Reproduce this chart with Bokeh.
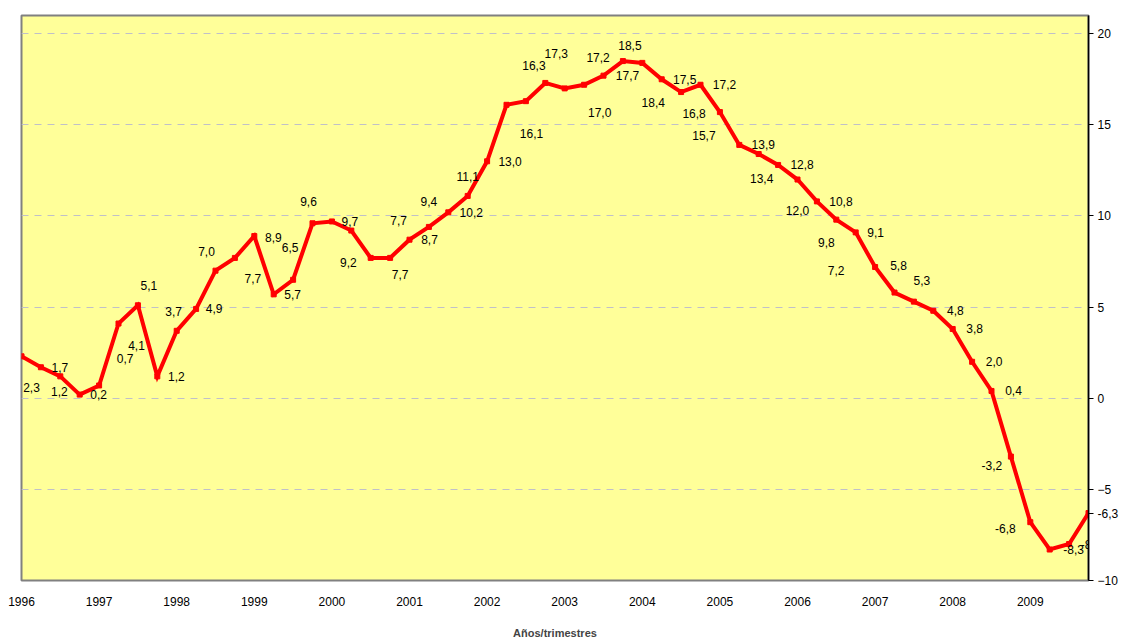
from bokeh.plotting import figure
from bokeh.models import ColumnDataSource, Range1d, FixedTicker
from bokeh.core.properties import value
from bokeh.embed import file_html
from bokeh.resources import INLINE

# ---- data ----
years = ["1996", "1997", "1998", "1999", "2000", "2001", "2002",
         "2003", "2004", "2005", "2006", "2007", "2008", "2009"]
values = [2.3, 1.7, 1.2, 0.2,
          0.7, 4.1, 5.1, 1.2,
          3.7, 4.9, 7.0, 7.7,
          8.9, 5.7, 6.5, 9.6,
          9.7, 9.2, 7.7, 7.7,
          8.7, 9.4, 10.2, 11.1,
          13.0, 16.1, 16.3, 17.3,
          17.0, 17.2, 17.7, 18.5,
          18.4, 17.5, 16.8, 17.2,
          15.7, 13.9, 13.4, 12.8,
          12.0, 10.8, 9.8, 9.1,
          7.2, 5.8, 5.3, 4.8,
          3.8, 2.0, 0.4, -3.2,
          -6.8, -8.3, -8.0, -6.3]
y_ticks = [-10, -5, 0, 5, 10, 15, 20]

# label placement offsets (screen px) - style only
label_dx = [10, 19, -1, 19, 26, 18, 11, 19, -3, 18, -9, 18, 19, 19, -3, -4,
            18, -3, 28, 10, 20, 0, 23, 0, 23, 25, 8, 11, 35, 14, 24, 7,
            11, 23, 13, 24, -16, 24, 3, 24, 0, 24, -10, 20, -39, 4,
            8, 22, 22, 22, 22, -19, -25, 24, 22, 22]
label_dy = [31, 0, 15, 0, -27, 22, -20, 0, -19, 0, -19, 21, 1, 0, -32, -22,
            0, 32, -37, 17, 0, -25, 0, -19, 0, 29, -36, -29, 24, -27, 0, -16,
            40, 0, 21, 0, 23, 0, 24, 0, 31, 0, 23, 0, 3, -27,
            -21, 0, 0, 0, 0, 9, 6, 0, 0, 0]

idx = list(range(len(values)))
labels = [f"{v:.1f}".replace(".", ",") for v in values]

src = ColumnDataSource(dict(x=idx, y=values))
src_in = ColumnDataSource(dict(x=idx[:-1], y=values[:-1], t=labels[:-1],
                               dx=label_dx[:-1], dy=label_dy[:-1]))

FONT = "Liberation Sans"

p = figure(frame_width=1067, frame_height=565,
           x_range=Range1d(0, 55), y_range=Range1d(-10, 21),
           y_axis_location="right",
           output_backend="svg", toolbar_location=None,
           min_border_left=21, min_border_right=33, min_border_top=15,
           min_border_bottom=0)

p.background_fill_color = "#FFFF99"
p.border_fill_color = "white"
p.outline_line_color = "#808080"
p.outline_line_width = 2

# grid
p.xgrid.grid_line_color = None
p.ygrid.ticker = FixedTicker(ticks=[t for t in y_ticks if t > -10])
p.ygrid.grid_line_color = "#C0C0C8"
p.ygrid.grid_line_dash = "7 6"
p.ygrid.grid_line_width = 1

# y axis (right); the last point's data label sits beside the axis
ya = p.yaxis[0]
ya.ticker = FixedTicker(ticks=y_ticks + [values[-1]])
ya.major_label_overrides = {values[-1]: labels[-1]}
ya.axis_line_color = "black"
ya.axis_line_width = 1.5
ya.major_tick_out = 5
ya.major_tick_in = 0
ya.major_tick_line_color = "black"
ya.minor_tick_line_color = None
ya.major_label_standoff = 4
ya.major_label_text_font = FONT
ya.major_label_text_font_size = "12px"
ya.major_label_text_color = "black"

# x axis
xa = p.xaxis[0]
xa.ticker = FixedTicker(ticks=[4 * i for i in range(len(years))])
xa.major_label_overrides = {4 * i: y for i, y in enumerate(years)}
xa.axis_line_color = None
xa.major_tick_line_color = None
xa.minor_tick_line_color = None
xa.major_label_standoff = 10
xa.major_label_text_font = FONT
xa.major_label_text_font_size = "12px"
xa.major_label_text_color = "black"
xa.axis_label = "Años/trimestres"
xa.axis_label_text_font = FONT
xa.axis_label_text_font_size = "11px"
xa.axis_label_text_font_style = "bold"
xa.axis_label_standoff = 18

# series
p.line("x", "y", source=src, line_color="#FF0000", line_width=4, line_join="miter")
p.scatter("x", "y", source=src, marker="square", size=5, color="#FF0000")

# data labels (clipped to frame)
p.text("x", "y", text="t", source=src_in, x_offset="dx", y_offset="dy",
       text_align="center", text_baseline="middle",
       text_font=value(FONT), text_font_size="12px", text_color="black")

open("out.html", "w").write(file_html(p, INLINE))
